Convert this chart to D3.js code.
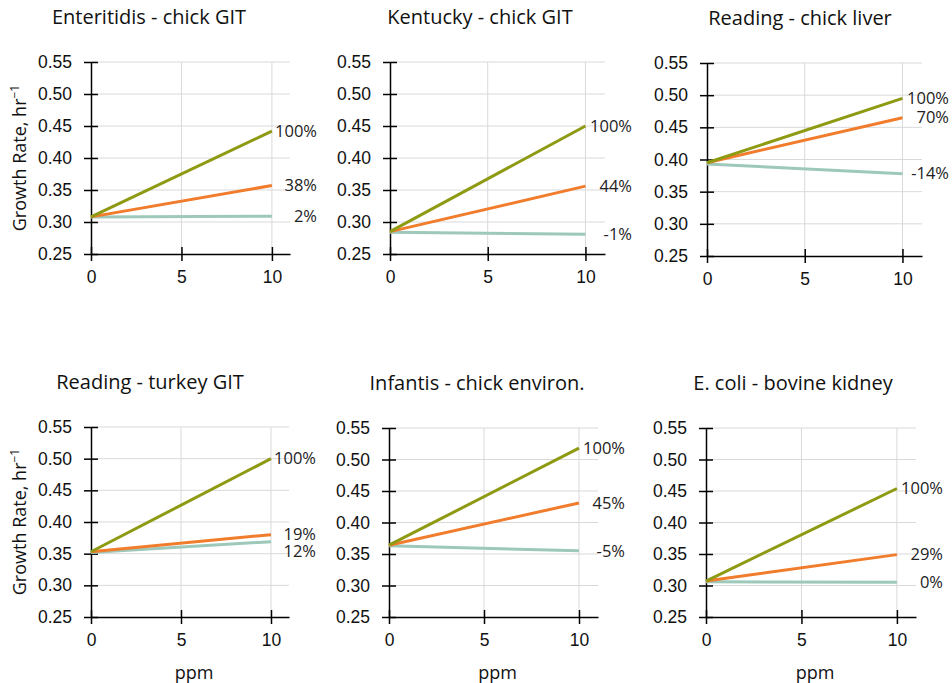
<!DOCTYPE html>
<html>
<head>
<meta charset="utf-8">
<script src="https://cdn.jsdelivr.net/npm/d3@7"></script>
<style>
  body { margin: 0; background: #fff; }
  svg { font-family: "Open Sans", sans-serif; }
</style>
</head>
<body>
<div id="chart"></div>
<script>
// chart data
const panelTitles = ["Enteritidis - chick GIT", "Kentucky - chick GIT", "Reading - chick liver",
                     "Reading - turkey GIT", "Infantis - chick environ.", "E. coli - bovine kidney"];
const ppm = [0, 10];
const xTicks = [0, 5, 10];
const yTicks = [0.25, 0.30, 0.35, 0.40, 0.45, 0.50, 0.55];

// growth rate at 0 and 10 ppm, one row per panel
const rateFull = [[0.308, 0.442], [0.285, 0.450], [0.395, 0.495], [0.353, 0.500], [0.364, 0.518], [0.307, 0.454]];
const rateMid  = [[0.308, 0.357], [0.285, 0.356], [0.395, 0.465], [0.353, 0.380], [0.364, 0.431], [0.307, 0.349]];
const rateLow  = [[0.308, 0.309], [0.284, 0.281], [0.393, 0.378], [0.352, 0.369], [0.363, 0.355], [0.306, 0.305]];

const labelFull = ["100%", "100%", "100%", "100%", "100%", "100%"];
const labelMid  = ["38%", "44%", "70%", "19%", "45%", "29%"];
const labelLow  = ["2%", "-1%", "-14%", "12%", "-5%", "0%"];

// layout of the six panels
const panels = [
    { left: 91,  top: 62,  width: 199, height: 192, titleX: 149 },
    { left: 390, top: 62,  width: 215, height: 192, titleX: 480 },
    { left: 707, top: 63,  width: 215, height: 193, titleX: 800 },
    { left: 91,  top: 427, width: 198, height: 190, titleX: 150 },
    { left: 389, top: 428, width: 209, height: 189, titleX: 477 },
    { left: 706, top: 428, width: 210, height: 189, titleX: 793 }
];

const colors = { low: "#9dc8ba", mid: "#f07c2c", full: "#8d9a12" };

const svg = d3.select("#chart").append("svg")
    .attr("width", 952)
    .attr("height", 683);

panels.forEach((p, i) => {
    const g = svg.append("g").attr("transform", `translate(${p.left},${p.top})`);

    const x = d3.scaleLinear().domain([0, 11]).range([0, p.width]);
    const y = d3.scaleLinear().domain([0.25, 0.55]).range([p.height, 0]);

    // gridlines
    g.append("g").selectAll("line")
        .data(yTicks.slice(1))
        .join("line")
        .attr("x1", 0).attr("x2", p.width)
        .attr("y1", d => y(d)).attr("y2", d => y(d))
        .attr("stroke", "#d9d9d9").attr("stroke-width", 1);
    g.append("g").selectAll("line")
        .data(xTicks.slice(1))
        .join("line")
        .attr("x1", d => x(d)).attr("x2", d => x(d))
        .attr("y1", 0).attr("y2", p.height)
        .attr("stroke", "#d9d9d9").attr("stroke-width", 1);

    // axes, ticks cross the axis line
    g.append("g")
        .call(d3.axisLeft(y).tickValues(yTicks).tickFormat(d3.format(".2f")).tickSize(7).tickPadding(12).tickSizeOuter(0))
        .call(a => a.select(".domain").attr("stroke", "#000").attr("stroke-width", 1.5))
        .call(a => a.selectAll(".tick line").attr("x1", -7).attr("x2", 7).attr("stroke-width", 1.5))
        .call(a => a.selectAll("text").attr("font-size", 17.5).attr("fill", "#111"));

    g.append("g")
        .attr("transform", `translate(0,${p.height})`)
        .call(d3.axisBottom(x).tickValues(xTicks).tickSize(7).tickPadding(10).tickSizeOuter(0))
        .call(a => a.select(".domain").attr("stroke", "#000").attr("stroke-width", 1.5))
        .call(a => a.selectAll(".tick line").attr("y1", -7).attr("y2", 7).attr("stroke-width", 1.5))
        .call(a => a.selectAll("text").attr("font-size", 17.5).attr("fill", "#111"));

    // lines
    const line = d3.line()
        .x((d, k) => x(ppm[k]))
        .y(d => y(d));

    const series = [
        { key: "low", values: rateLow[i], label: labelLow[i] },
        { key: "mid", values: rateMid[i], label: labelMid[i] },
        { key: "full", values: rateFull[i], label: labelFull[i] }
    ];

    g.selectAll("path.line")
        .data(series)
        .join("path")
        .attr("class", "line")
        .attr("fill", "none")
        .attr("stroke", d => colors[d.key])
        .attr("stroke-width", 3)
        .attr("d", d => line(d.values));

    // end labels, pushed apart when they would overlap
    const labels = series.map(s => ({ text: s.label, y: y(s.values[1]) }))
        .sort((a, b) => a.y - b.y);
    for (let k = 1; k < labels.length; k++) {
        if (labels[k].y - labels[k - 1].y < 17) labels[k].y = labels[k - 1].y + 17;
    }
    g.selectAll("text.endlabel")
        .data(labels)
        .join("text")
        .attr("class", "endlabel")
        .attr("x", p.width + 27)
        .attr("y", d => d.y)
        .attr("dy", "0.35em")
        .attr("text-anchor", "end")
        .attr("font-size", 16.5)
        .attr("fill", "#222")
        .text(d => d.text);

    // title
    svg.append("text")
        .attr("x", p.titleX)
        .attr("y", p.top - 38)
        .attr("text-anchor", "middle")
        .attr("font-size", 20)
        .attr("fill", "#111")
        .text(panelTitles[i]);

    // y label on left column
    if (i % 3 === 0) {
        const t = svg.append("text")
            .attr("transform", `translate(26,${p.top + p.height / 2}) rotate(-90)`)
            .attr("text-anchor", "middle")
            .attr("font-size", 18)
            .attr("fill", "#111");
        t.append("tspan").text("Growth Rate, hr");
        t.append("tspan").attr("font-size", 12).attr("dy", "-0.6em").text("\u22121");
    }

    // x label on bottom row
    if (i >= 3) {
        svg.append("text")
            .attr("x", p.left + p.width / 2 + 4)
            .attr("y", p.top + p.height + 62)
            .attr("text-anchor", "middle")
            .attr("font-size", 18)
            .attr("fill", "#111")
            .text("ppm");
    }
});
</script>
</body>
</html>
